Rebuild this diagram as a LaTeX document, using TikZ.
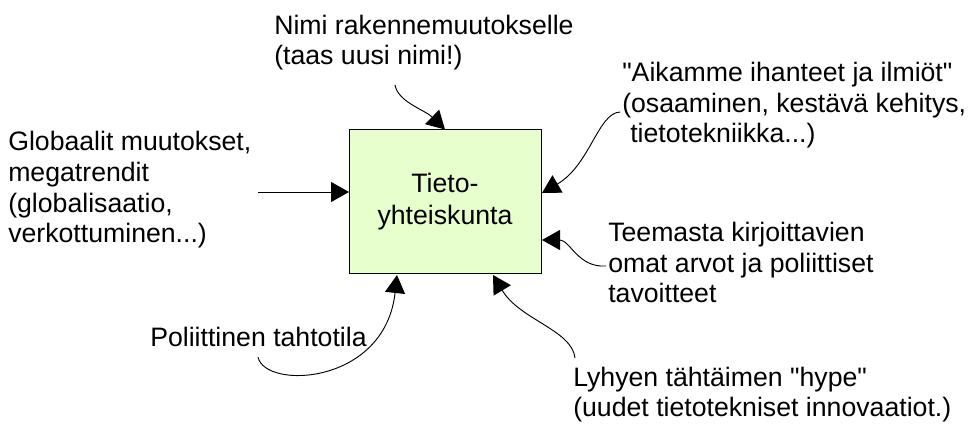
\documentclass[tikz,border=0pt]{standalone}
\usepackage{fontspec}
\setmainfont{Liberation Sans}
\font\qfont="Liberation Sans" at 20pt
\newcommand{\sq}{{\qfont\char34}}
\usetikzlibrary{arrows.meta}
\definecolor{boxgreen}{HTML}{E6FFCC}
\begin{document}
\begin{tikzpicture}[x=0.75pt,y=-0.75pt,
  lbl/.style={inner sep=0pt, align=left, anchor=base west, font=\fontsize{20pt}{23pt}\selectfont},
  mainbox/.style={draw=black, line width=0.75pt, fill=boxgreen, minimum width=144pt, minimum height=108pt, align=center, inner sep=0pt, font=\fontsize{20pt}{24pt}\selectfont},
  conn/.style={line width=0.7pt, -{Triangle[length=13.5pt,width=15pt]}}]
\useasboundingbox (0,0) rectangle (968,434);

\node[mainbox] (box) at (445,202) {Tieto-\\yhteiskunta};

\node[lbl] (nimi) at (274,65) {Nimi rakennemuutokselle\\(taas uusi nimi!)};
\node[lbl] (aika) at (622,143) {\sq Aikamme ihanteet ja ilmiöt\sq\\(osaaminen, kestävä kehitys,\\\hspace*{6pt}tietotekniikka...)};
\node[lbl] (glob) at (8,243) {Globaalit muutokset,\\megatrendit\\(globalisaatio,\\verkottuminen...)};
\node[lbl] (teem) at (608,303) {Teemasta kirjoittavien\\omat arvot ja poliittiset\\tavoitteet};
\node[lbl] (poli) at (150,347) {Poliittinen tahtotila};
\node[lbl] (lyhy) at (573,417) {Lyhyen tähtäimen \sq hype\sq\\(uudet tietotekniset innovaatiot.)};

\coordinate (s1) at (395,85);
\coordinate (s2) at (620,112);
\coordinate (t2) at (542,193);
\coordinate (s3) at (258,192);
\coordinate (t3) at (349,192);
\coordinate (s4) at (606,266);
\coordinate (t4) at (542,240);
\coordinate (s5) at (258,357);
\coordinate (t5) at (397,275);
\coordinate (s6) at (575,358);
\coordinate (t6) at (493,275);

\draw[conn] (s1) .. controls (398,102) and (425,110) .. (box.north);
\draw[conn] (s2) .. controls (598,113) and (590,165) .. (t2);
\draw[conn] (s3) -- (t3);
\draw[conn] (s4) .. controls (578,268) and (570,240) .. (t4);
\draw[conn] (s5) .. controls (265,390) and (385,385) .. (t5);
\draw[conn] (s6) .. controls (572,330) and (520,320) .. (t6);
\end{tikzpicture}
\end{document}
